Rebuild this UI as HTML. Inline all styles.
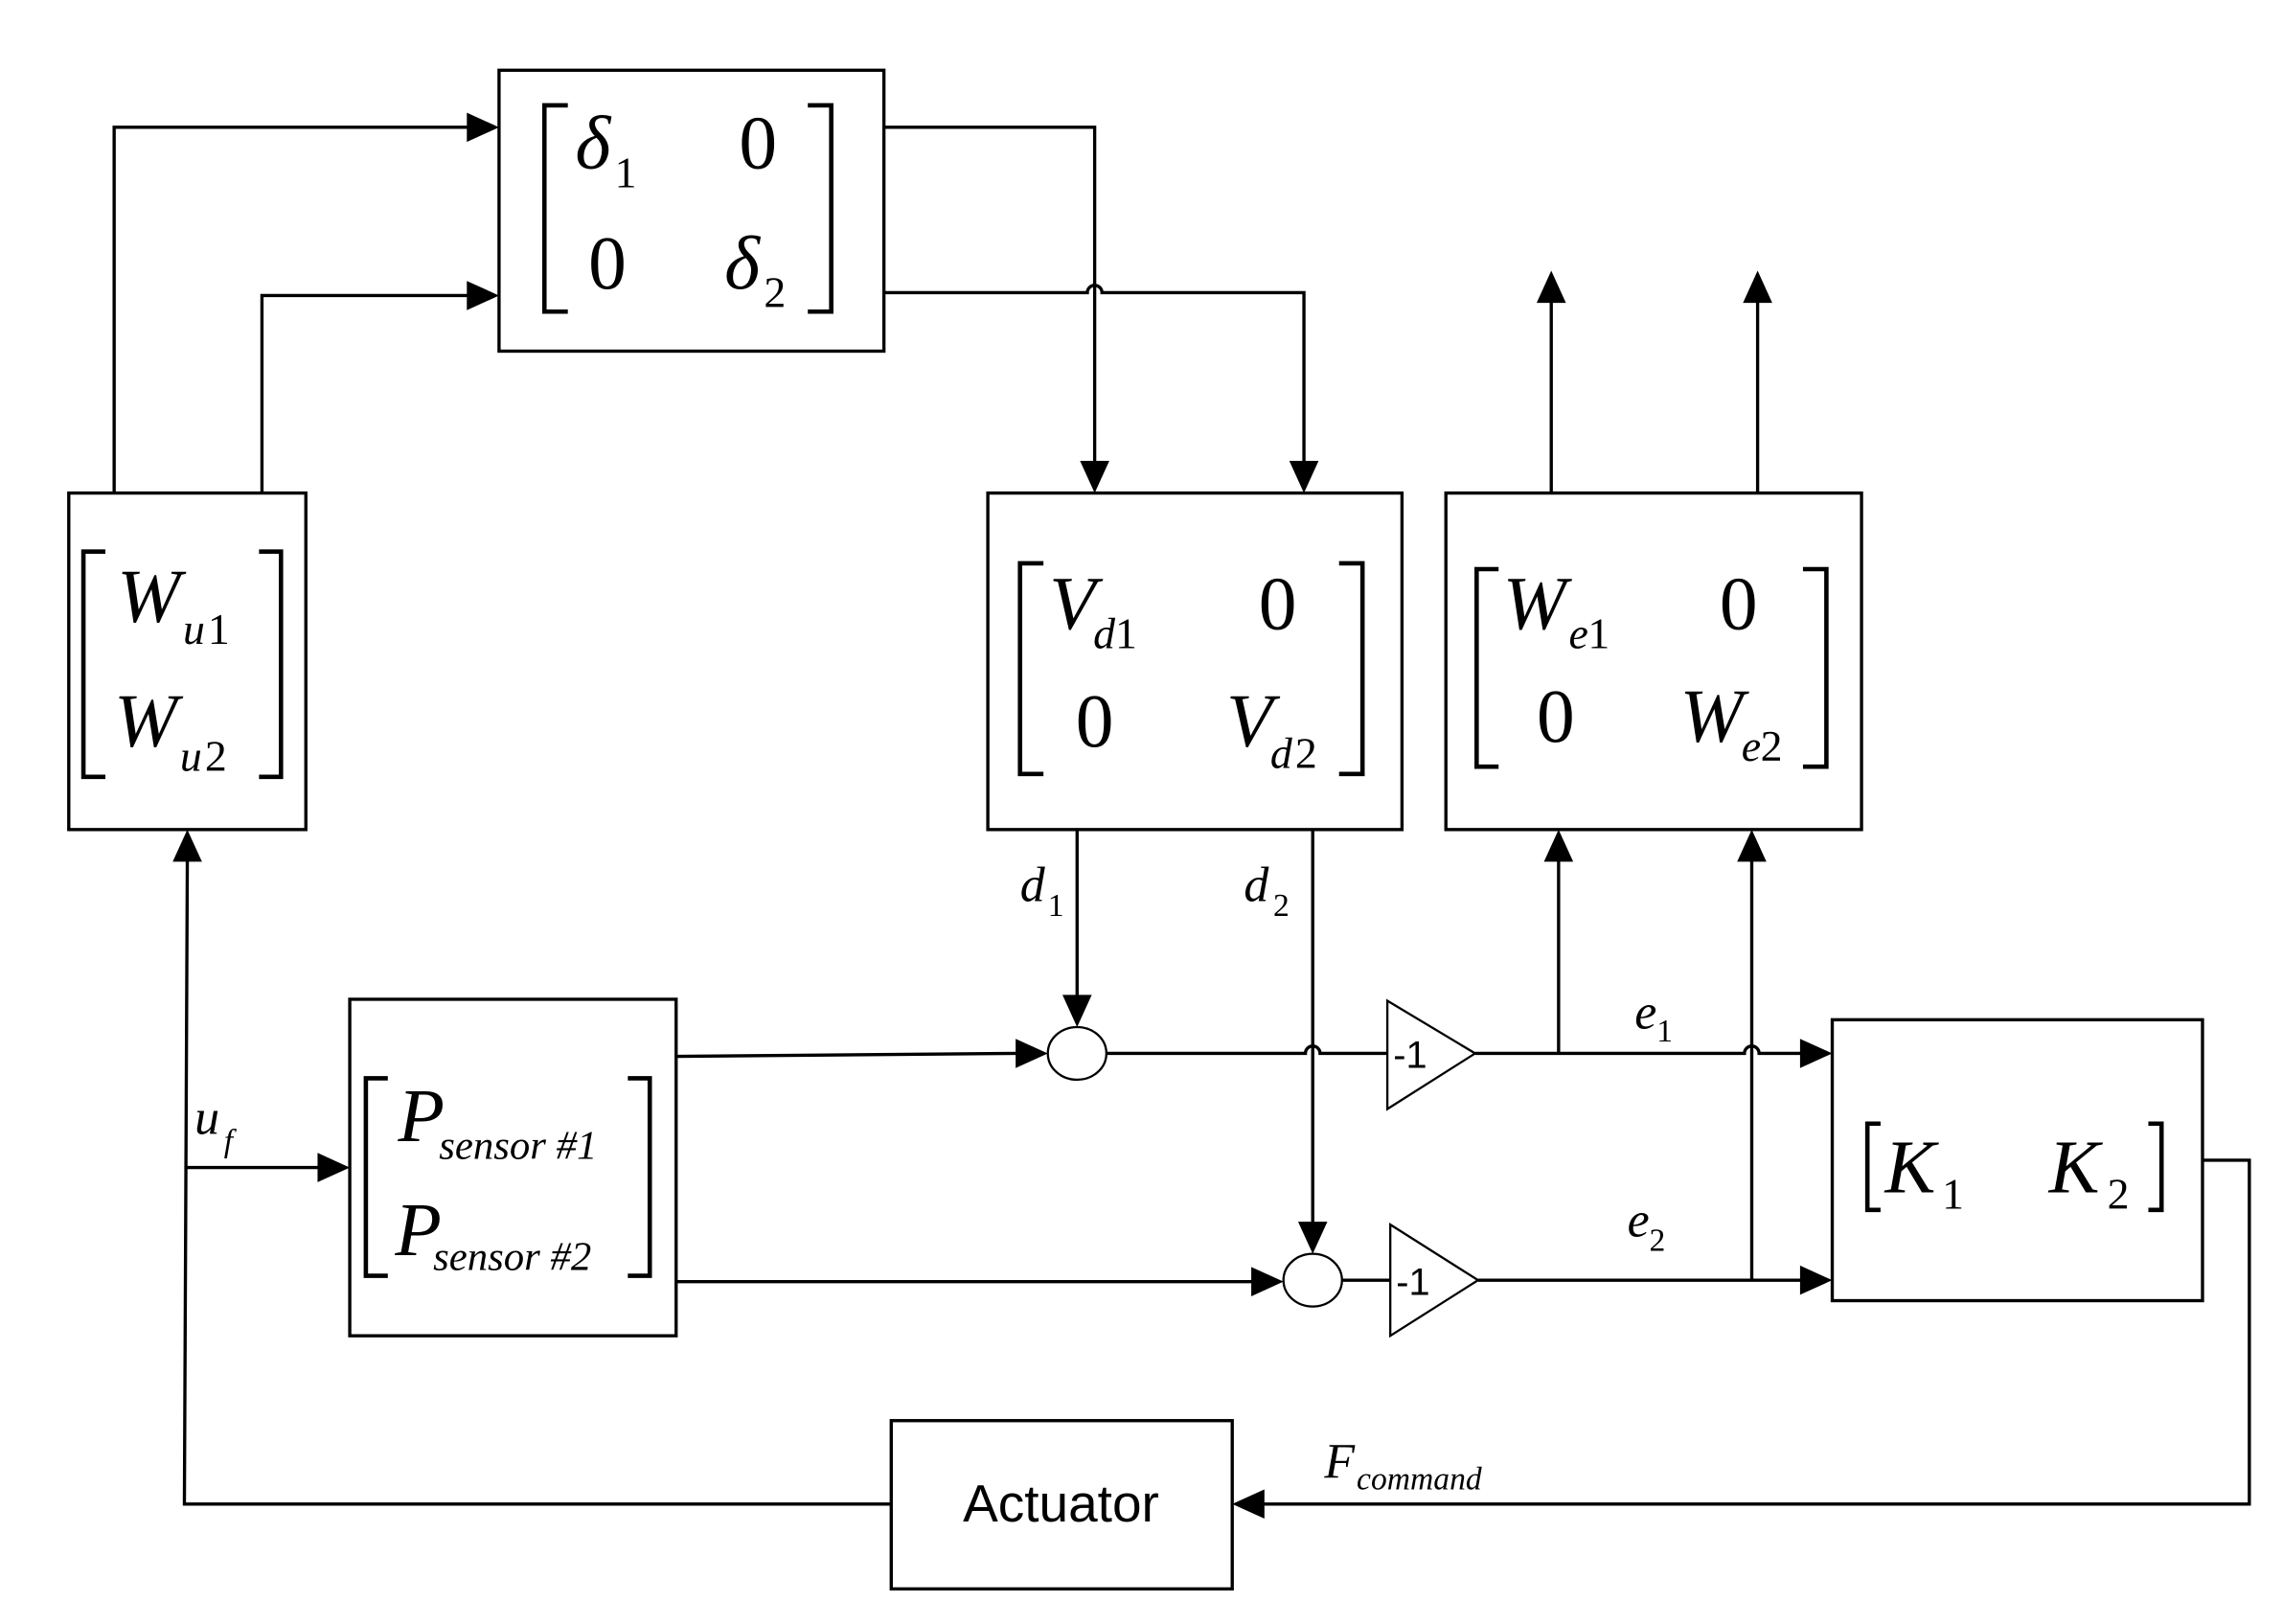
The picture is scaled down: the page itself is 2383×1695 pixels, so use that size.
<!DOCTYPE html>
<html><head><meta charset="utf-8"><style>
html,body{margin:0;padding:0;background:#fff;}
svg{display:block;}
text{font-family:"Liberation Serif",serif;fill:#000;}
.i{font-style:italic;}
</style></head><body>
<svg width="2383" height="1695" viewBox="0 0 1560 1110" preserveAspectRatio="none" xmlns="http://www.w3.org/2000/svg">
<defs>
<marker id="a" markerWidth="10" markerHeight="8" refX="10" refY="4" orient="auto" markerUnits="userSpaceOnUse" viewBox="0 0 10 8">
</marker>
</defs>
<g fill="none" stroke="#000" stroke-width="2.2">
<!-- boxes -->
<rect x="341" y="48" width="263" height="192"/>
<rect x="47" y="337" width="162" height="230"/>
<rect x="675" y="337" width="283" height="230"/>
<rect x="988" y="337" width="284" height="230"/>
<rect x="239" y="683" width="223" height="230"/>
<rect x="1252" y="697" width="253" height="192"/>
<rect x="609" y="971" width="233" height="115"/>
<!-- brackets -->
<g stroke-width="3">
<path d="M388,72 H372 V213 H388"/><path d="M552,72 H568 V213 H552"/>
<path d="M72,377 H57 V531 H72"/><path d="M177,377 H192 V531 H177"/>
<path d="M713,385 H697 V529 H713"/><path d="M915,385 H931 V529 H915"/>
<path d="M1024,389 H1009 V524 H1024"/><path d="M1232,389 H1248 V524 H1232"/>
<path d="M265,737 H250 V872 H265"/><path d="M429,737 H444 V872 H429"/>
<path d="M1285,768 H1276 V827 H1285"/><path d="M1468,768 H1477 V827 H1468"/>
</g>
<!-- connectors -->
<path d="M78,337 V87 H322"/>
<path d="M179,337 V202 H322"/>
<path d="M604,87 H748 V318"/>
<path d="M604,200 H743 A5,5 0 0 1 753,200 H891 V318"/>
<path d="M1060,337 V205"/>
<path d="M1201,337 V205"/>
<path d="M462,722 L695,720"/>
<path d="M462,876 H857"/>
<path d="M736,567 V683"/>
<path d="M897,567 V837"/>
<path d="M756,720 H892 A5,5 0 0 1 902,720 H948"/>
<path d="M917,875 H950"/>
<path d="M1008,720 H1192 A5,5 0 0 1 1202,720 H1232"/>
<path d="M1010,875 H1232"/>
<path d="M1065,720 V588"/>
<path d="M1197,875 V588"/>
<path d="M1505,793 H1537 V1028 H862"/>
<path d="M609,1028 H126 L128,588"/>
<path d="M126,798 H219"/>
<ellipse cx="736" cy="720" rx="20" ry="18" stroke-width="1.5"/>
<ellipse cx="897" cy="875" rx="20" ry="18" stroke-width="1.5"/>
<path d="M948,684 L1008,720 L948,758 Z" stroke-width="1.5"/>
<path d="M950,837 L1010,875 L950,913 Z" stroke-width="1.5"/>
</g>
<!-- arrowheads -->
<g fill="#000">
<path d="M341,87 l-22,-10 v20 z"/>
<path d="M341,202 l-22,-10 v20 z"/>
<path d="M748,337 l-10,-22 h20 z"/>
<path d="M891,337 l-10,-22 h20 z"/>
<path d="M1060,185 l-10,22 h20 z"/>
<path d="M1201,185 l-10,22 h20 z"/>
<path d="M716,720 l-22,-10 v20 z"/>
<path d="M877,876 l-22,-10 v20 z"/>
<path d="M736,702 l-10,-22 h20 z"/>
<path d="M897,857 l-10,-22 h20 z"/>
<path d="M1252,720 l-22,-10 v20 z"/>
<path d="M1252,875 l-22,-10 v20 z"/>
<path d="M1065,567 l-10,22 h20 z"/>
<path d="M1197,567 l-10,22 h20 z"/>
<path d="M842,1028 l22,-10 v20 z"/>
<path d="M128,567 l-10,22 h20 z"/>
<path d="M239,798 l-22,-10 v20 z"/>
</g>
<!-- labels -->
<g font-size="52">
<text x="393" y="115" class="i">δ</text><text x="420" y="128" font-size="30">1</text>
<text x="505" y="115">0</text>
<text x="402" y="197">0</text>
<text x="495" y="197" class="i">δ</text><text x="522" y="210" font-size="30">2</text>
<text x="80" y="425" class="i">W</text><text x="125" y="440" font-size="30" class="i">u</text><text x="142" y="440" font-size="30">1</text>
<text x="78" y="510" class="i">W</text><text x="123" y="527" font-size="30" class="i">u</text><text x="140" y="527" font-size="30">2</text>
<text x="717" y="430" class="i">V</text><text x="747" y="443" font-size="30" class="i">d</text><text x="762" y="443" font-size="30">1</text>
<text x="860" y="430">0</text>
<text x="735" y="510">0</text>
<text x="838" y="510" class="i">V</text><text x="868" y="525" font-size="30" class="i">d</text><text x="885" y="525" font-size="30">2</text>
<text x="1027" y="430" class="i">W</text><text x="1072" y="443" font-size="30" class="i">e</text><text x="1085" y="443" font-size="30">1</text>
<text x="1175" y="430">0</text>
<text x="1050" y="507">0</text>
<text x="1148" y="507" class="i">W</text><text x="1190" y="520" font-size="30" class="i">e</text><text x="1203" y="520" font-size="30">2</text>
<text x="272" y="780" class="i">P</text><text x="300" y="792" font-size="28" class="i">sensor #1</text>
<text x="270" y="858" class="i">P</text><text x="296" y="868" font-size="28" class="i">sensor #2</text>
<text x="1288" y="815" class="i">K</text><text x="1327" y="826" font-size="30">1</text>
<text x="1400" y="815" class="i">K</text><text x="1440" y="826" font-size="30">2</text>
</g>
<g font-size="34">
<text x="697" y="616" class="i">d</text><text x="716" y="626" font-size="22">1</text>
<text x="850" y="616" class="i">d</text><text x="870" y="626" font-size="22">2</text>
<text x="1117" y="703" class="i">e</text><text x="1132" y="712" font-size="22">1</text>
<text x="1112" y="845" class="i">e</text><text x="1127" y="855" font-size="22">2</text>
<text x="133" y="775" class="i">u</text><text x="153" y="787" font-size="22" class="i">f</text>
<text x="905" y="1010" class="i">F</text><text x="927" y="1018" font-size="22" class="i">command</text>
</g>
<text x="952" y="730" font-family="Liberation Sans" font-size="26" style="font-family:'Liberation Sans',sans-serif">-1</text>
<text x="954" y="885" style="font-family:'Liberation Sans',sans-serif" font-size="26">-1</text>
<text x="725" y="1040" text-anchor="middle" style="font-family:'Liberation Sans',sans-serif" font-size="36">Actuator</text>
</svg>
</body></html>
